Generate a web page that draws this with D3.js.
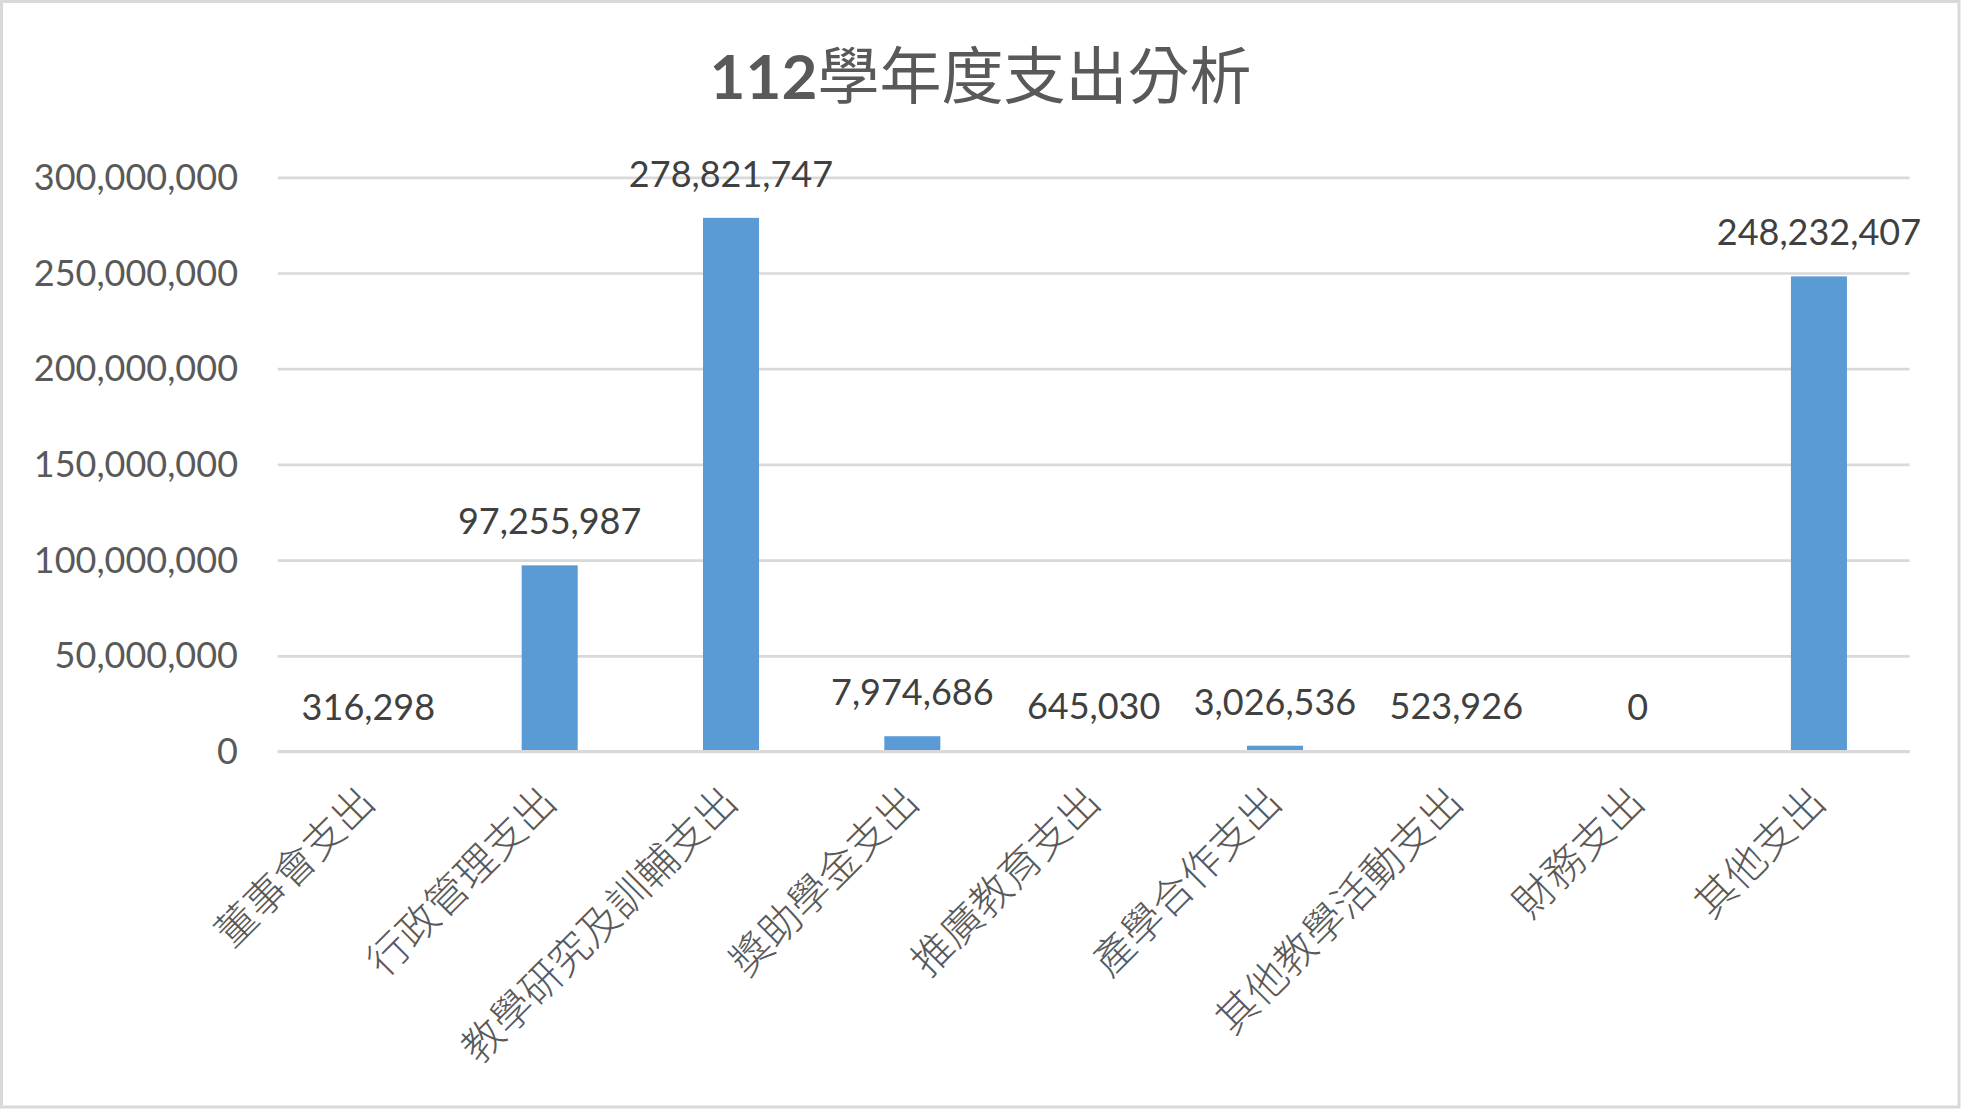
<html>
<head>
<meta charset="UTF-8">
<title>112學年度支出分析</title>
<script src="https://d3js.org/d3.v7.min.js"></script>
<style>
  body { margin: 0; background: #fff; }
  .axis-y .domain, .axis-x .domain { display: none; }
  .axis-y line { stroke: #d9d9d9; stroke-width: 2.7; }
</style>
</head>
<body>
<div id="svg_chart"></div>
<script>
    // chart data
    const categories = ["董事會支出", "行政管理支出", "教學研究及訓輔支出", "獎助學金支出", "推廣教育支出",
                        "產學合作支出", "其他教學活動支出", "財務支出", "其他支出"];
    const values = [316298, 97255987, 278821747, 7974686, 645030, 3026536, 523926, 0, 248232407];
    const yTicks = [0, 50000000, 100000000, 150000000, 200000000, 250000000, 300000000];
    const titleNum = "112";
    const titleText = "學年度支出分析";

    const W = 1961, H = 1109;
    // plot area
    let margin = {top: 177.3, left: 277.7, right: 51.4, bottom: 357.5};
    let width = W - margin.left - margin.right,
        height = H - margin.top - margin.bottom;

    const svg = d3.select("#svg_chart")
        .append("svg")
        .attr("width", W)
        .attr("height", H);

    svg.append("rect")
        .attr("width", W).attr("height", H)
        .attr("fill", "#fff");

    // outer chart border
    svg.append("rect")
        .attr("x", 1.5).attr("y", 1.5)
        .attr("width", W - 3.5).attr("height", H - 3.5)
        .attr("fill", "none")
        .attr("stroke", "#d9d9d9")
        .attr("stroke-width", 3);

    // title
    let title = svg.append("text")
        .attr("x", W / 2)
        .attr("y", 99)
        .attr("text-anchor", "middle")
        .attr("fill", "#595959")
        .style("font-family", "Lato, 'Noto Sans CJK TC', sans-serif")
        .style("font-size", "62px");
    title.append("tspan").attr("font-weight", "bold").text(titleNum);
    title.append("tspan").style("font-family", "'Noto Sans CJK TC'").text(titleText);

    const g = svg.append("g")
        .attr("transform", "translate(" + margin.left + "," + margin.top + ")");

    let xScale = d3.scaleBand()
        .domain(categories)
        .range([0, width])
        .paddingInner(0.691)
        .paddingOuter(0.691 / 2);

    let yScale = d3.scaleLinear()
        .domain([0, 300000000])
        .range([height, 0]);

    // y axis with gridlines
    g.append("g")
        .attr("class", "axis axis-y")
        .call(d3.axisLeft(yScale)
            .tickValues(yTicks)
            .tickSize(-width)
            .tickPadding(39.7)
            .tickFormat(d3.format(",")))
        .selectAll("text")
        .attr("dy", 12)
        .attr("fill", "#595959")
        .style("font-family", "Lato, sans-serif")
        .style("font-size", "36px");

    // bars
    g.selectAll("rect.bar")
        .data(values)
        .join("rect")
        .attr("class", "bar")
        .attr("x", (d, i) => xScale(categories[i]))
        .attr("y", d => yScale(d))
        .attr("width", xScale.bandwidth())
        .attr("height", d => height - yScale(d))
        .attr("fill", "#5b9bd5");

    // horizontal axis line sits on top of the bars
    g.append("line")
        .attr("x1", 0).attr("x2", width)
        .attr("y1", yScale(0) - 0.2).attr("y2", yScale(0) - 0.2)
        .attr("stroke", "#d9d9d9")
        .attr("stroke-width", 2.7);

    // data labels
    g.selectAll("text.label")
        .data(values)
        .join("text")
        .attr("class", "label")
        .attr("x", (d, i) => xScale(categories[i]) + xScale.bandwidth() / 2)
        .attr("y", d => yScale(d) - 31)
        .attr("text-anchor", "middle")
        .attr("fill", "#404040")
        .style("font-family", "Lato, sans-serif")
        .style("font-size", "36px")
        .text(d => d3.format(",")(d));

    // x axis, rotated category labels
    g.append("g")
        .attr("class", "axis axis-x")
        .attr("transform", "translate(0," + height + ")")
        .call(d3.axisBottom(xScale).tickSize(0))
        .selectAll("text")
        .attr("x", 0)
        .attr("y", 0)
        .attr("dy", 0)
        .attr("transform", "translate(9,53) rotate(-45)")
        .attr("text-anchor", "end")
        .attr("fill", "#595959")
        .style("font-family", "'Noto Sans CJK TC', sans-serif")
        .style("font-weight", 300)
        .style("font-size", "41px");
</script>
</body>
</html>
